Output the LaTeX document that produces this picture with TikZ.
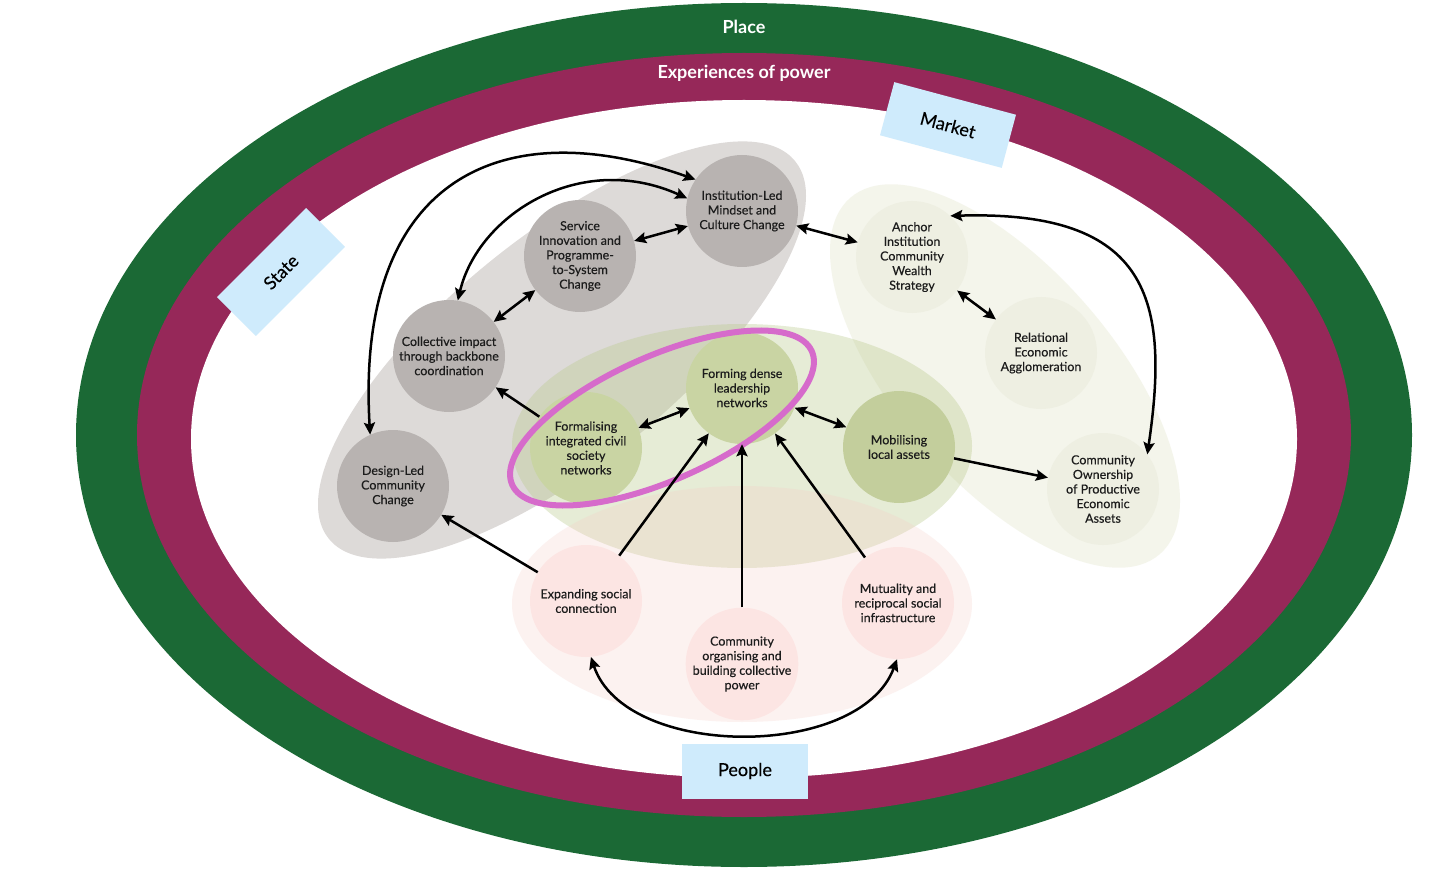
\documentclass[tikz,border=0pt]{standalone}
\usepackage{fontspec}
\setmainfont{Lato}
\newfontfamily\nodefont{Lato}[FakeBold=0.35]
\usetikzlibrary{arrows.meta}
\definecolor{placegreen}{HTML}{1B6935}
\definecolor{powerred}{HTML}{962859}
\definecolor{tagblue}{HTML}{CFEBFC}
\definecolor{greyblob}{HTML}{DDDAD8}
\definecolor{greycirc}{HTML}{B8B3B1}
\definecolor{greenblob}{HTML}{B8C98A}
\definecolor{greencirc}{HTML}{C9D4A3}
\definecolor{greencirctwo}{HTML}{C3CE9C}
\definecolor{mktblob}{HTML}{DCE0BF}
\definecolor{mktcirc}{HTML}{EEEFE2}
\definecolor{pinkblob}{HTML}{F6CCC6}
\definecolor{pinkcirc}{HTML}{FCE5E3}
\definecolor{ringpink}{HTML}{D66BCB}
\definecolor{inktext}{HTML}{1C1C1C}
\tikzset{
  circbase/.style={circle, minimum size=112pt, inner sep=0pt, align=center,
    text=inktext, font=\nodefont\fontsize{12.5}{14.6}\selectfont},
  greynode/.style={circbase, fill=greycirc},
  greennode/.style={circbase, fill=greencirc},
  greennodetwo/.style={circbase, fill=greencirctwo},
  mktnode/.style={circbase, fill=mktcirc},
  pinknode/.style={circbase, fill=pinkcirc},
  tagbox/.style={fill=tagblue, minimum width=126pt, minimum height=55pt, inner sep=0pt,
    text=black, font=\nodefont\fontsize{18}{20}\selectfont},
  bandlabel/.style={text=white, font=\bfseries\fontsize{18}{20}\selectfont},
  tip/.tip={Stealth[length=12pt,width=11pt,inset=2pt]},
  conn/.style={line width=2.5pt, -tip},
  dconn/.style={line width=2.5pt, tip-tip},
}
\begin{document}
\begin{tikzpicture}[x=1pt,y=-1pt]
\useasboundingbox (0,0) rectangle (1456,877);
% bands
\fill[placegreen] (744,435) ellipse [x radius=668pt, y radius=432pt];
\fill[powerred] (744,435) ellipse [x radius=607pt, y radius=382pt];
\fill[white] (744,439) ellipse [x radius=553pt, y radius=339pt];
% blobs
\fill[greyblob, rotate around={39:(562,350)}] (562,350) ellipse [x radius=300pt, y radius=114pt];
\fill[mktblob, opacity=0.3, rotate around={-49:(1005,376)}] (1005,376) ellipse [x radius=236pt, y radius=108pt];
\fill[greenblob, opacity=0.35] (742,446) ellipse [x radius=230pt, y radius=122pt];
\fill[pinkblob, opacity=0.25] (742,604) ellipse [x radius=230pt, y radius=118pt];
% nodes
\node[greynode] (inst) at (742,211) {Institution-Led\\Mindset and\\Culture Change};
\node[greynode] (serv) at (580,256) {Service\\Innovation and\\Programme-\\to-System\\Change};
\node[greynode] (coll) at (449,356) {Collective impact\\through backbone\\coordination};
\node[greynode] (design) at (393,486) {Design-Led\\Community\\Change};
\node[greennode] (formal) at (586,448) {Formalising\\integrated civil\\society\\networks};
\node[greennode] (dense) at (742,388) {Forming dense\\leadership\\networks};
\node[greennodetwo] (mobil) at (899,447) {Mobilising\\local assets};
\node[mktnode] (anchor) at (912,257) {Anchor\\Institution\\Community\\Wealth\\Strategy};
\node[mktnode] (relat) at (1041,353) {Relational\\Economic\\Agglomeration};
\node[mktnode] (owner) at (1103,489) {Community\\Ownership\\of Productive\\Economic\\Assets};
\node[pinknode] (expand) at (586,601) {Expanding social\\connection};
\node[pinknode] (organ) at (742,664) {Community\\organising and\\building collective\\power};
\node[pinknode] (mutual) at (898,603) {Mutuality and\\reciprocal social\\infrastructure};
% magenta ring
\draw[ringpink, line width=6pt, rotate around={24:(662,418)}] (662,418) ellipse [x radius=164pt, y radius=62pt];
% connectors
\draw[dconn] (design.114) .. controls (355,180) and (500,110) .. (inst.146);
\draw[dconn] (coll.81) .. controls (478,215) and (580,150) .. (inst.167);
\draw[dconn] (serv) -- (inst);
\draw[dconn] (serv) -- (coll);
\draw[dconn] (inst) -- (anchor);
\draw[dconn] (anchor) -- (relat);
\draw[dconn] (anchor.47) .. controls (1150,210) and (1170,300) .. (owner.38);
\draw[conn] (formal) -- (coll);
\draw[dconn] (formal) -- (dense);
\draw[dconn] (dense) -- (mobil);
\draw[conn] (mobil) -- (owner);
\draw[conn] (expand) -- (design);
\draw[conn] (expand) -- (dense);
\draw[conn] (organ) -- (dense);
\draw[conn] (mutual) -- (dense);
\draw[dconn] (expand.-85) .. controls (625,760) and (860,760) .. (mutual.-91);
% labels
\node[bandlabel] (place) at (744,27) {Place};
\node[bandlabel] (power) at (744,73) {Experiences of power};
\node[tagbox, rotate=-15] (market) at (948,125) {Market};
\node[tagbox, rotate=45] (state) at (281,272) {State};
\node[tagbox] (people) at (745,771) {People};
\end{tikzpicture}
\end{document}
